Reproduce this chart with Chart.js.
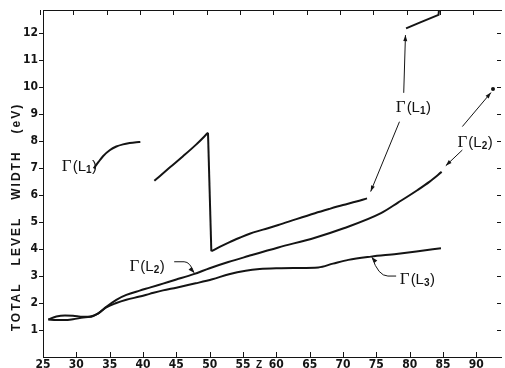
<!DOCTYPE html>
<html>
<head>
<meta charset="utf-8">
<script src="https://cdn.jsdelivr.net/npm/chart.js@4/dist/chart.umd.min.js"></script>
<style>
  body { margin: 0; background: #fff; }
  canvas { display: block; }
</style>
</head>
<body>
<canvas id="chart" width="505" height="368"></canvas>
<script>
// atomic number Z on x, total level width (eV) on y
const xTicks = [25, 30, 35, 40, 45, 50, 55, 60, 65, 70, 75, 80, 85, 90];
const yTicks = [1, 2, 3, 4, 5, 6, 7, 8, 9, 10, 11, 12];

// Gamma(L1), in pieces
const l1aX = [32.6, 33.3, 34.0, 35.0, 36.0, 37.0, 38.0, 39.0, 39.6];
const l1aY = [6.99, 7.22, 7.44, 7.66, 7.80, 7.88, 7.93, 7.96, 7.97];
const l1bX = [41.7, 44.0, 46.0, 48.0, 49.75];
const l1bY = [6.53, 7.02, 7.44, 7.88, 8.31];
const l1cX = [49.75, 50.25];
const l1cY = [8.31, 3.92];
const l1dX = [50.25, 51.5, 53.0, 54.5, 56.0, 58.0, 60.3, 63.0, 65.8, 68.0, 70.0, 72.0, 73.6];
const l1dY = [3.92, 4.08, 4.26, 4.42, 4.57, 4.72, 4.89, 5.11, 5.33, 5.49, 5.63, 5.76, 5.88];
const l1eX = [79.46, 81.5, 84.33, 84.4];
const l1eY = [12.18, 12.39, 12.68, 12.86];

// Gamma(L2)
const l2X = [25.8, 27.0, 28.3, 29.5, 31.0, 32.0, 33.3, 34.5, 36.0, 37.5, 39.5, 41.0, 43.0, 45.0, 47.6, 50.0, 52.8, 55.8, 60.3, 65.8, 70.0, 75.7, 78.3, 81.2, 83.0, 84.8];
const l2Y = [1.39, 1.50, 1.54, 1.53, 1.49, 1.49, 1.62, 1.86, 2.12, 2.30, 2.46, 2.57, 2.72, 2.87, 3.07, 3.29, 3.52, 3.74, 4.06, 4.42, 4.76, 5.33, 5.73, 6.19, 6.50, 6.86];
const l2ExtraX = [92.5];
const l2ExtraY = [9.93];

// Gamma(L3)
const l3X = [25.8, 27.0, 28.3, 29.5, 31.0, 32.0, 33.3, 34.5, 36.0, 37.5, 39.5, 41.0, 43.0, 45.0, 47.9, 50.4, 52.9, 55.4, 57.5, 60.3, 63.0, 66.3, 68.5, 70.8, 74.2, 78.0, 81.0, 84.7];
const l3Y = [1.39, 1.37, 1.37, 1.40, 1.46, 1.49, 1.62, 1.84, 2.00, 2.12, 2.24, 2.34, 2.47, 2.57, 2.73, 2.88, 3.07, 3.20, 3.26, 3.29, 3.30, 3.32, 3.46, 3.60, 3.72, 3.82, 3.91, 4.03];

function pts(xs, ys) {
    return xs.map((x, i) => ({ x: x, y: ys[i] }));
}

const ink = '#141414';

function curve(xs, ys, straight) {
    return {
        data: pts(xs, ys),
        borderColor: ink,
        borderWidth: 2,
        pointRadius: 0,
        fill: false,
        cubicInterpolationMode: straight ? 'default' : 'monotone',
        tension: 0
    };
}

// labels and leader arrows, in data coordinates
const labels = [
    { x: 27.83, y: 6.89, sub: '1' },
    { x: 77.92, y: 9.08, sub: '1' },
    { x: 87.17, y: 7.78, sub: '2' },
    { x: 37.97, y: 3.19, sub: '2' },
    { x: 78.52, y: 2.71, sub: '3' }
];
const arrows = [
    [[79.11, 9.79], [79.37, 11.93]],
    [[78.47, 8.72], [74.15, 6.13]],
    [[87.9, 8.54], [92.2, 9.8]],
    [[87.9, 7.67], [85.42, 7.09]],
    [[44.68, 3.53], [46.17, 3.53], [47.66, 3.12]],
    [[77.97, 3.0], [76.73, 3.0], [74.34, 3.70]]
];

const decor = {
    id: 'decor',
    afterDraw(chart) {
        const ctx = chart.ctx;
        const xs = chart.scales.x, ys = chart.scales.y;
        const a = chart.chartArea;
        ctx.save();
        ctx.strokeStyle = ink;
        ctx.fillStyle = ink;
        ctx.lineWidth = 1;

        // top frame line, inward ticks on top / bottom / right
        ctx.beginPath();
        ctx.moveTo(a.left, a.top + 0.5);
        ctx.lineTo(a.right + 1, a.top + 0.5);
        xTicks.forEach(v => {
            const px = Math.round(xs.getPixelForValue(v)) + 0.5;
            ctx.moveTo(px, a.bottom);
            ctx.lineTo(px, a.bottom - 5);
            ctx.moveTo(px - 3, a.top);
            ctx.lineTo(px - 3, a.top + 5);
        });
        yTicks.forEach(v => {
            const py = Math.round(ys.getPixelForValue(v)) + 0.5;
            ctx.moveTo(a.right, py);
            ctx.lineTo(a.right - 4, py);
        });
        ctx.stroke();

        // leader arrows
        arrows.forEach(path => {
            const p = path.map(q => [xs.getPixelForValue(q[0]), ys.getPixelForValue(q[1])]);
            ctx.beginPath();
            ctx.moveTo(p[0][0], p[0][1]);
            if (p.length === 3) {
                ctx.lineTo(p[1][0], p[1][1]);
                ctx.quadraticCurveTo(p[1][0] + (p[2][0] - p[1][0]) * 0.6, p[1][1], p[2][0], p[2][1]);
            } else {
                ctx.lineTo(p[1][0], p[1][1]);
            }
            ctx.stroke();
            const e = p[p.length - 1], s = p[p.length - 2];
            const ang = Math.atan2(e[1] - s[1], e[0] - s[0]);
            ctx.beginPath();
            ctx.moveTo(e[0], e[1]);
            ctx.lineTo(e[0] - 6 * Math.cos(ang) + 2 * Math.sin(ang), e[1] - 6 * Math.sin(ang) - 2 * Math.cos(ang));
            ctx.lineTo(e[0] - 6 * Math.cos(ang) - 2 * Math.sin(ang), e[1] - 6 * Math.sin(ang) + 2 * Math.cos(ang));
            ctx.closePath();
            ctx.fill();
        });

        // Gamma labels
        ctx.textBaseline = 'alphabetic';
        ctx.textAlign = 'left';
        labels.forEach(l => {
            let px = xs.getPixelForValue(l.x);
            const py = ys.getPixelForValue(l.y);
            ctx.font = '17px "Liberation Serif", serif';
            ctx.fillText('\u0393', px, py);
            px += ctx.measureText('\u0393').width + 1;
            ctx.font = '15px "Liberation Sans", sans-serif';
            ctx.fillText('(L', px, py);
            px += ctx.measureText('(L').width;
            ctx.font = 'bold 10px "Liberation Sans", sans-serif';
            ctx.fillText(l.sub, px, py + 2);
            px += ctx.measureText(l.sub).width + 0.5;
            ctx.font = '15px "Liberation Sans", sans-serif';
            ctx.fillText(')', px, py);
        });

        // y axis title, spread out word by word
        const words = ['TOTAL', 'LEVEL', 'WIDTH', '(eV)'];
        ctx.font = 'bold 12px "Liberation Sans", sans-serif';
        ctx.letterSpacing = '2px';
        const widths = words.map(w => ctx.measureText(w).width);
        const gap = 17;
        const total = widths.reduce((s, w) => s + w, 0) + gap * (words.length - 1);
        ctx.translate(17, 217);
        ctx.rotate(-Math.PI / 2);
        ctx.textBaseline = 'middle';
        let cx = -total / 2;
        words.forEach((w, i) => {
            ctx.fillText(w, cx, 0);
            cx += widths[i] + gap;
        });
        ctx.setTransform(1, 0, 0, 1, 0, 0);
        ctx.letterSpacing = '0px';

        // x axis title
        ctx.font = 'bold 10px "Liberation Sans", sans-serif';
        ctx.textAlign = 'center';
        ctx.textBaseline = 'alphabetic';
        ctx.fillText('Z', xs.getPixelForValue(57.4), 368);
        ctx.restore();
    }
};

const tickFont = { family: '"Liberation Sans Narrow", "DejaVu Sans Condensed", "Liberation Sans", sans-serif', size: 12, weight: 'bold' };

new Chart(document.getElementById('chart'), {
    type: 'line',
    data: {
        datasets: [
            curve(l1aX, l1aY),
            curve(l1bX, l1bY),
            curve(l1cX, l1cY, true),
            curve(l1dX, l1dY),
            curve(l1eX, l1eY, true),
            curve(l2X, l2Y),
            curve(l3X, l3Y),
            {
                data: pts(l2ExtraX, l2ExtraY),
                showLine: false,
                pointRadius: 2,
                pointBackgroundColor: ink,
                pointBorderWidth: 0
            }
        ]
    },
    options: {
        responsive: false,
        animation: false,
        layout: { padding: { top: 10, right: 1, left: 0, bottom: 0 } },
        plugins: { legend: { display: false }, tooltip: { enabled: false } },
        scales: {
            x: {
                type: 'linear',
                min: 25,
                max: 93.7,
                afterFit: s => { s.height = 11; },
                afterBuildTicks: s => { s.ticks = xTicks.map(v => ({ value: v })); },
                grid: { drawOnChartArea: false, drawTicks: false },
                border: { color: ink, width: 1 },
                ticks: { font: tickFont, color: ink, padding: 1, maxRotation: 0, autoSkip: false }
            },
            y: {
                type: 'linear',
                min: 0,
                max: 12.86,
                afterFit: s => { s.width = 43; },
                afterBuildTicks: s => { s.ticks = yTicks.map(v => ({ value: v })); },
                grid: { drawOnChartArea: false, drawTicks: true, tickLength: 4, color: ink },
                border: { color: ink, width: 1 },
                ticks: { font: tickFont, color: ink, padding: 1 }
            }
        }
    },
    plugins: [decor]
});
</script>
</body>
</html>
